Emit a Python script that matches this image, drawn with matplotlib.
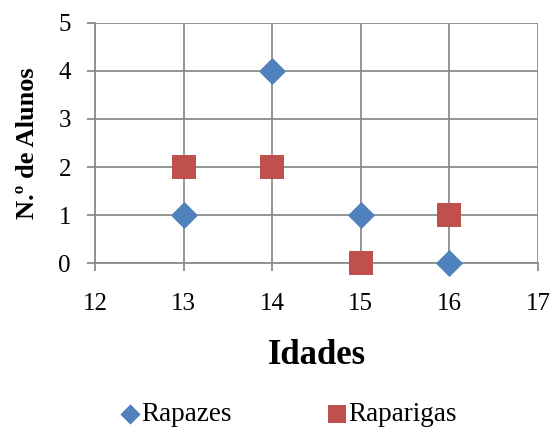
import matplotlib.pyplot as plt

plt.rcParams['font.family'] = ['Liberation Serif', 'DejaVu Serif']

idades = [13, 14, 15, 16]
rapazes = [1, 4, 1, 0]
raparigas = [2, 2, 0, 1]
x_ticks = [12, 13, 14, 15, 16, 17]
y_ticks = [0, 1, 2, 3, 4, 5]

grid_col = '#8c8c8c'

fig = plt.figure(figsize=(5.54, 4.32), dpi=100)
ax = fig.add_axes([0.1715, 0.391, 0.7995, 0.556])

ax.scatter(idades, rapazes, marker='D', s=190, color='#4F81BD', zorder=3,
           label='Rapazes', linewidths=0, clip_on=False)
ax.scatter(idades, raparigas, marker='s', s=300, color='#C0504D', zorder=3,
           label='Raparigas', linewidths=0, clip_on=False)

ax.set_xlim(12, 17)
ax.set_ylim(0, 5)
ax.set_xticks(x_ticks)
ax.set_yticks(y_ticks)
ax.grid(True, color=grid_col, linewidth=1.3)
ax.set_axisbelow(True)
for s in ['top', 'right']:
    ax.spines[s].set_visible(False)
for s in ['left', 'bottom']:
    ax.spines[s].set_color(grid_col)
    ax.spines[s].set_linewidth(1.3)
ax.tick_params(labelsize=18, color=grid_col, width=1.3, length=5.8)
ax.tick_params(axis='x', pad=16)
ax.tick_params(axis='y', pad=11.5)

ax.set_xlabel('Idades', fontsize=25, fontweight='bold', labelpad=17)
ax.set_ylabel('N.º de Alunos', fontsize=19, fontweight='bold', labelpad=14)

fig.legend(loc='lower center', bbox_to_anchor=(0.505, -0.045), ncol=2,
           frameon=False, fontsize=19.5, handletextpad=-0.6, columnspacing=2.9,
           markerscale=0.75)

fig.savefig('out.png', dpi=100)
